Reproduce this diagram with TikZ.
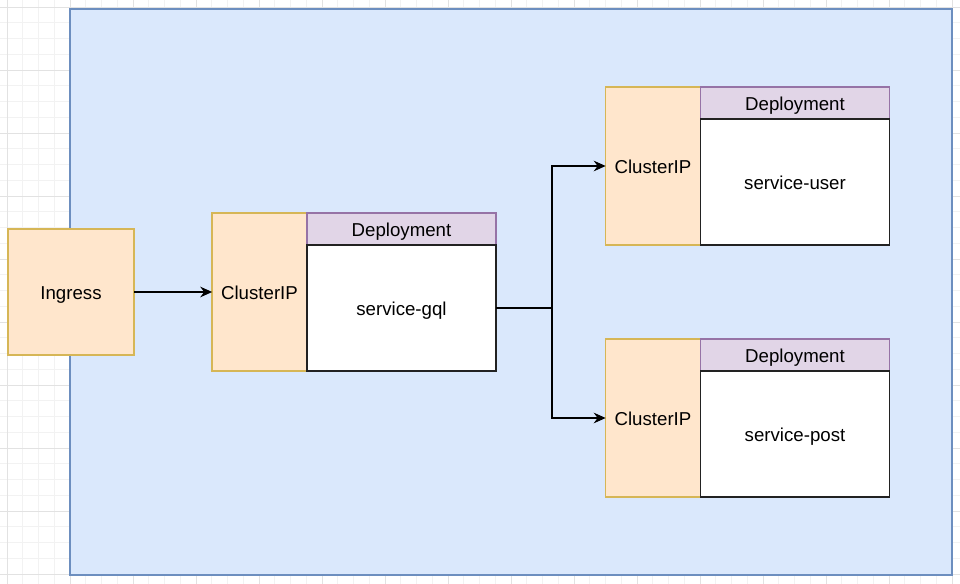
\documentclass[tikz,border=0pt]{standalone}
\usepackage{fontspec}
\setmainfont{Liberation Sans}
\usetikzlibrary{arrows.meta}
\definecolor{gridminor}{HTML}{F2F2F2}
\definecolor{gridmajor}{HTML}{E2E2E2}
\definecolor{contfill}{HTML}{DAE8FC}
\definecolor{contdraw}{HTML}{6C8EBF}
\definecolor{orfill}{HTML}{FFE6CC}
\definecolor{ordraw}{HTML}{D6B656}
\definecolor{pufill}{HTML}{E1D5E7}
\definecolor{pudraw}{HTML}{9673A6}
\definecolor{svcdraw}{HTML}{222222}
\tikzset{
  boxbase/.style={rectangle, inner sep=0pt, outer sep=0pt, line width=1.1pt, font=\fontsize{14}{16}\selectfont, text=black, text height=11.5pt, text depth=0pt},
  ingressbox/.style={boxbase, fill=orfill, draw=ordraw, minimum width=94.5pt, minimum height=94.5pt},
  cipbox/.style={boxbase, fill=orfill, draw=ordraw, minimum width=71pt, minimum height=118.5pt},
  depbox/.style={boxbase, fill=pufill, draw=pudraw, minimum width=142pt, minimum height=24pt},
  svcbox/.style={boxbase, fill=white, draw=svcdraw, minimum width=142pt, minimum height=94.5pt},
  conn/.style={line width=1pt, draw=black, -{Stealth[length=9pt,width=8pt,inset=3pt]}},
  connplain/.style={line width=1pt, draw=black}
}
\begin{document}
\begin{tikzpicture}[x=0.75pt,y=-0.75pt]
\useasboundingbox (0,0) rectangle (960,584);
\fill[white] (0,0) rectangle (960,584);
% grid
\foreach \i in {0,...,62} {
  \pgfmathsetmacro\xx{7+15.75*(\i-1)}
  \draw[gridminor, line width=0.6pt] (\xx,0) -- (\xx,584);
  \draw[gridminor, line width=0.6pt] (0,\xx) -- (960,\xx);
}
\foreach \i in {0,...,15} {
  \pgfmathsetmacro\xx{7+63*\i}
  \draw[gridmajor, line width=0.7pt] (\xx,0) -- (\xx,584);
  \draw[gridmajor, line width=0.7pt] (0,\xx) -- (960,\xx);
}
% container
\node[rectangle, fill=contfill, draw=contdraw, line width=1.1pt, inner sep=0pt, minimum width=661.5pt, minimum height=424.5pt] (cont) at (511,292) {};
% ingress
\node[ingressbox] (ingress) at (71,292) {Ingress};
% gql group
\node[cipbox] (cipg) at (259.5,292) {ClusterIP};
\node[depbox] (depg) at (401.5,229) {Deployment};
\node[svcbox] (svcg) at (401.5,308) {service-gql};
% user group
\node[cipbox] (cipu) at (653,166) {ClusterIP};
\node[depbox] (depu) at (795,103) {Deployment};
\node[svcbox] (svcu) at (795,182) {service-user};
% post group
\node[cipbox] (cipp) at (653,418) {ClusterIP};
\node[depbox] (depp) at (795,355) {Deployment};
\node[svcbox] (svcp) at (795,434) {service-post};
% connectors
\coordinate (split) at (552,308);
\draw[conn] (ingress.east) -- (cipg.west);
\draw[connplain] (svcg.east) -- (split);
\draw[conn] (split) |- (cipu.west);
\draw[conn] (split) |- (cipp.west);
\end{tikzpicture}
\end{document}
